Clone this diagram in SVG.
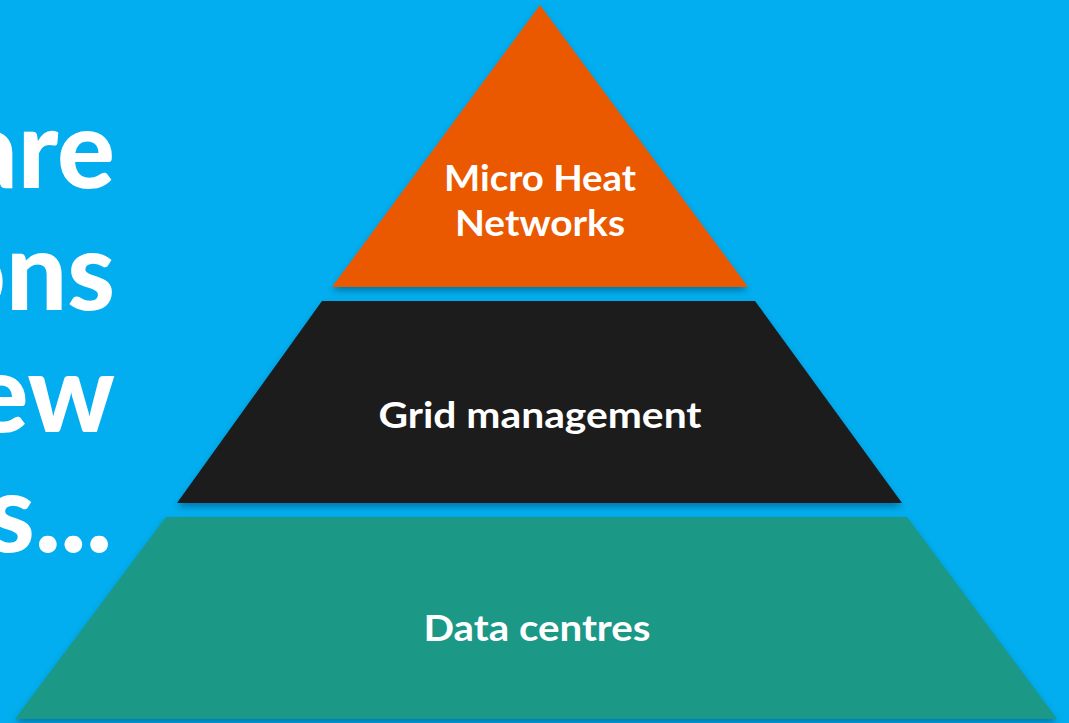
<svg xmlns="http://www.w3.org/2000/svg" width="1069" height="723" viewBox="0 0 1069 723">
<defs>
<filter id="sh" x="-10%" y="-10%" width="120%" height="130%">
<feDropShadow dx="0" dy="4" stdDeviation="3" flood-color="#003a5a" flood-opacity="0.45"/>
</filter>
</defs>
<style>
.lbl{font-family:Lato,"Open Sans","Liberation Sans",sans-serif;font-weight:700;font-size:36px;fill:#ffffff;text-anchor:middle}
.big{font-family:Lato,"Open Sans","Liberation Sans",sans-serif;font-weight:900;font-size:108px;fill:#ffffff;text-anchor:end}
</style>
<rect x="0" y="0" width="1069" height="723" fill="#02AEEF"/>
<g id="title">
<text class="big" x="115" y="188">are</text>
<text class="big" x="115" y="310">ons</text>
<text class="big" x="115" y="432">ew</text>
<text class="big" x="112" y="552">es...</text>
</g>
<g id="connectors"></g>
<g id="level-top">
<polygon points="540,5 748,287 332,287" fill="#EA5800" filter="url(#sh)"/>
<text class="lbl" x="540" y="191" textLength="192" lengthAdjust="spacingAndGlyphs">Micro Heat</text>
<text class="lbl" x="540" y="236" textLength="170" lengthAdjust="spacingAndGlyphs">Networks</text>
</g>
<g id="level-middle">
<polygon points="322,301 755,301 902,503 177,503" fill="#1B1B1B" filter="url(#sh)"/>
<text class="lbl" x="540" y="428" textLength="323" lengthAdjust="spacingAndGlyphs">Grid management</text>
</g>
<g id="level-bottom">
<polygon points="166,517 907,517 1057,719 15,719" fill="#1B9887" filter="url(#sh)"/>
<text class="lbl" x="537" y="641" textLength="227" lengthAdjust="spacingAndGlyphs">Data centres</text>
</g>
</svg>
